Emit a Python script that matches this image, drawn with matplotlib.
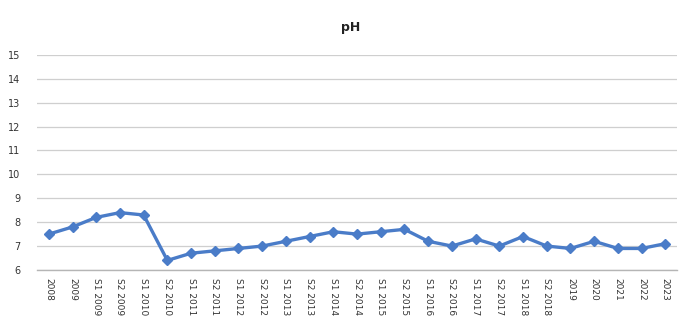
import matplotlib
matplotlib.use("Agg")
import matplotlib.pyplot as plt

categories = ["2008", "2009", "S1 2009", "S2 2009", "S1 2010", "S2 2010", "S1 2011", "S2 2011",
              "S1 2012", "S2 2012", "S1 2013", "S2 2013", "S1 2014", "S2 2014", "S1 2015", "S2 2015",
              "S1 2016", "S2 2016", "S1 2017", "S2 2017", "S1 2018", "S2 2018", "2019", "2020",
              "2021", "2022", "2023"]
ph_values = [7.5, 7.8, 8.2, 8.4, 8.3, 6.4, 6.7, 6.8, 6.9, 7.0, 7.2, 7.4, 7.6, 7.5, 7.6, 7.7,
             7.2, 7.0, 7.3, 7.0, 7.4, 7.0, 6.9, 7.2, 6.9, 6.9, 7.1]
y_ticks = list(range(6, 16))

fig = plt.figure(figsize=(6.84, 3.21), dpi=100)
ax = fig.add_axes([0.054, 0.159, 0.936, 0.670])
x = list(range(len(categories)))
ax.plot(x, ph_values, color="#4a7cc8", linewidth=2.4, marker="D", markersize=5.5,
        markeredgecolor="#4a7cc8", zorder=3)
ax.set_xlim(-0.5, len(categories) - 0.5)
ax.set_ylim(6, 15)
ax.set_yticks(y_ticks)
ax.set_xticks(x)
ax.set_xticklabels(categories, rotation=270, fontsize=6.5, color="#333333")
ax.tick_params(axis="y", labelsize=7, colors="#333333", length=0, pad=12)
ax.tick_params(axis="x", length=0, pad=6)
ax.grid(axis="y", color="#cfcfcf", linewidth=0.9)
ax.set_axisbelow(True)
for s in ["top", "right", "left"]:
    ax.spines[s].set_visible(False)
ax.spines["bottom"].set_color("#b5b5b5")
ax.spines["bottom"].set_linewidth(1.0)
fig.text(0.512, 0.915, "pH", ha="center", va="center", fontsize=9, fontweight="bold", color="#222222")
fig.savefig("out.png", dpi=100)
